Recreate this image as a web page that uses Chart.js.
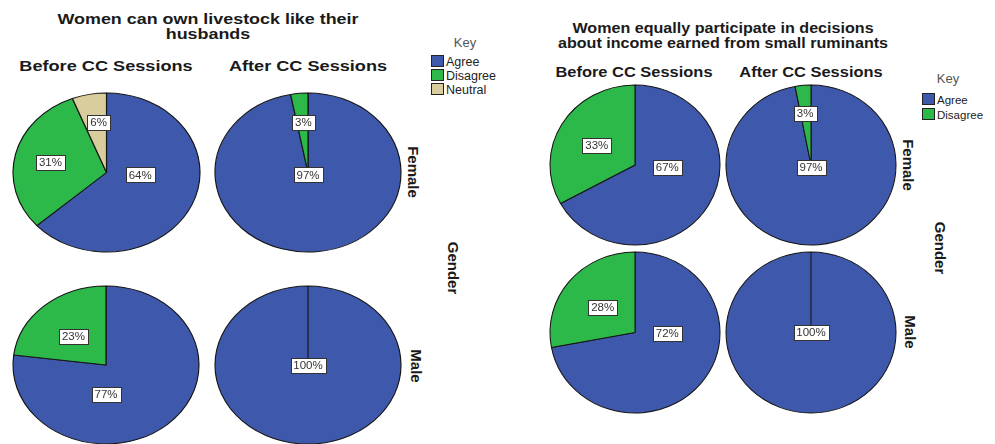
<!DOCTYPE html>
<html>
<head>
<meta charset="utf-8">
<script src="https://cdn.jsdelivr.net/npm/chart.js@4/dist/chart.umd.min.js"></script>
<style>
  html, body { margin: 0; padding: 0; background: #fff; }
  #wrap { position: relative; width: 995px; height: 444px; overflow: hidden; background: #fff;
          font-family: "Liberation Sans", Arial, sans-serif; color: #1a1a1a; }
  .t { position: absolute; white-space: nowrap; }
  .title { font-weight: bold; line-height: 15px; text-align: center; }
  .sub { font-weight: bold; }
  .side { font-weight: bold; font-size: 15px; }
  .key { font-size: 13px; color: #555; }
  .leg { position: absolute; color: #222; }
  .leg span.box { display: inline-block; width: 11px; height: 10px; border: 1px solid #222;
                  vertical-align: -1px; margin-right: 2px; }
  canvas { position: absolute; }
</style>
</head>
<body>
<div id="wrap"></div>
<script>
// Response categories and colours
const categories = ['Agree', 'Disagree', 'Neutral'];
const sliceColors = ['#3E58AC', '#2DB94A', '#D9CD9D'];

// Women can own livestock like their husbands (% of respondents)
const livestockFemaleBefore = [64, 31, 6];
const livestockFemaleAfter  = [97, 3, 0];
const livestockMaleBefore   = [77, 23, 0];
const livestockMaleAfter    = [100, 0, 0];

// Women equally participate in decisions about income from small ruminants (%)
const incomeFemaleBefore = [67, 33];
const incomeFemaleAfter  = [97, 3];
const incomeMaleBefore   = [72, 28];
const incomeMaleAfter    = [100, 0];

const panelTitles = ['Women can own livestock like their\nhusbands',
                     'Women equally participate in decisions\nabout income earned from small ruminants'];
const sessionLabels = ['Before CC Sessions', 'After CC Sessions'];
const genderLabels = ['Female', 'Male'];
const axisLabel = 'Gender';

const wrap = document.getElementById('wrap');

// Each panel is rendered with its own horizontal stretch
function addText(cls, text, x, y, size, sx, rotate) {
  const d = document.createElement('div');
  d.className = 't ' + cls;
  d.style.left = x + 'px';
  d.style.top = y + 'px';
  if (size) d.style.fontSize = size + 'px';
  d.style.transform = 'translate(-50%, -50%) scaleX(' + (sx || 1) + ')' + (rotate ? ' rotate(90deg)' : '');
  d.innerHTML = text.replace(/\n/g, '<br>');
  wrap.appendChild(d);
}

function addLegend(x, y, keyX, keyY, n, size, lh) {
  addText('key', 'Key', keyX, keyY, 13, 1);
  const box = document.createElement('div');
  box.className = 'leg';
  box.style.left = x + 'px';
  box.style.top = y + 'px';
  box.style.fontSize = size + 'px';
  box.style.lineHeight = lh + 'px';
  box.innerHTML = categories.slice(0, n).map((c, i) =>
    '<div><span class="box" style="background:' + sliceColors[i] + '"></span>' + c + '</div>').join('');
  wrap.appendChild(box);
}

// Horizontal stretch of the pie (panels are drawn slightly elliptical)
const ellipsePlugin = {
  id: 'ellipse',
  beforeDatasetsDraw(chart, args, opts) {
    const a = chart.getDatasetMeta(0).data[0];
    const ctx = chart.ctx;
    ctx.save();
    ctx.translate(a.x, a.y);
    ctx.scale(opts.sx, 1);
    ctx.translate(-a.x, -a.y);
  },
  afterDatasetsDraw(chart) { chart.ctx.restore(); }
};

// Boxed percentage labels placed relative to the pie centre
const boxLabelPlugin = {
  id: 'boxLabels',
  afterDraw(chart, args, opts) {
    const ctx = chart.ctx;
    const meta = chart.getDatasetMeta(0);
    const values = chart.data.datasets[0].data;
    const sx = chart.options.plugins.ellipse.sx;
    ctx.save();
    ctx.font = '11.5px "Liberation Sans", Arial, sans-serif';
    ctx.textAlign = 'center';
    ctx.textBaseline = 'middle';
    meta.data.forEach((a, i) => {
      if (!values[i]) return;
      const anchor = opts.anchors[i];
      const r = a.outerRadius;
      const x = a.x + anchor[0] * r * sx;
      const y = a.y + anchor[1] * r;
      const txt = values[i] + '%';
      const w = Math.round(ctx.measureText(txt).width) + 6;
      const h = 15;
      const bx = Math.round(x - w / 2) + 0.5, by = Math.round(y - h / 2) + 0.5;
      ctx.fillStyle = '#fff';
      ctx.fillRect(bx, by, w, h);
      ctx.strokeStyle = '#333';
      ctx.lineWidth = 1;
      ctx.strokeRect(bx, by, w, h);
      ctx.fillStyle = '#333';
      ctx.fillText(txt, x, y + 0.5);
    });
    ctx.restore();
  }
};

function addPie(values, cx, cy, rx, ry, anchors) {
  const W = Math.ceil(2 * rx + 6), H = Math.ceil(2 * ry + 6);
  const c = document.createElement('canvas');
  c.width = W; c.height = H;
  c.style.width = W + 'px'; c.style.height = H + 'px';
  c.style.left = (cx - W / 2) + 'px';
  c.style.top = (cy - H / 2) + 'px';
  wrap.appendChild(c);
  new Chart(c, {
    type: 'pie',
    data: {
      labels: categories.slice(0, values.length),
      datasets: [{
        data: values,
        backgroundColor: sliceColors.slice(0, values.length),
        borderColor: '#161616',
        borderWidth: 1
      }]
    },
    options: {
      responsive: false,
      animation: false,
      radius: ry,
      layout: { padding: 0 },
      events: [],
      plugins: {
        legend: { display: false },
        tooltip: { enabled: false },
        ellipse: { sx: rx / ry },
        boxLabels: { anchors: anchors }
      }
    },
    plugins: [ellipsePlugin, boxLabelPlugin]
  });
}

// ---- Panel 1: livestock ownership ----
const sx1 = 1.17;
addText('title', panelTitles[0], 208, 26, 15.3, sx1);
addText('sub', sessionLabels[0], 106, 66, 15.5, sx1);
addText('sub', sessionLabels[1], 308, 66, 15.5, sx1);
addText('side', genderLabels[0], 413, 172, 15, 1, true);
addText('side', axisLabel, 453, 268, 15, 1, true);
addText('side', genderLabels[1], 416, 366, 15, 1, true);
addLegend(431, 55, 465, 42, 3, 12.5, 14);

addPie(livestockFemaleBefore, 106, 172, 93.5, 79.5, [[0.36, 0.03], [-0.60, -0.13], [-0.085, -0.63]]);
addPie(livestockFemaleAfter, 308, 172, 93, 79.5, [[0, 0.03], [-0.05, -0.63]]);
addPie(livestockMaleBefore, 106, 365, 93, 79, [[0, 0.37], [-0.35, -0.36]]);
addPie(livestockMaleAfter, 308, 365, 93, 79, [[0, 0.01]]);

// ---- Panel 2: income decisions ----
const sx2 = 1.06;
addText('title', panelTitles[1], 723, 35, 15.2, sx2);
addText('sub', sessionLabels[0], 634, 72, 15.5, sx2);
addText('sub', sessionLabels[1], 811, 72, 15.5, sx2);
addText('side', genderLabels[0], 908, 165, 15, 1, true);
addText('side', axisLabel, 940, 248, 15, 1, true);
addText('side', genderLabels[1], 910, 332, 15, 1, true);
addLegend(922, 93, 948, 78, 2, 11.5, 13.5);

addPie(incomeFemaleBefore, 635, 165, 85, 80, [[0.38, 0.03], [-0.45, -0.24]]);
addPie(incomeFemaleAfter, 811, 165, 85, 80, [[0, 0.03], [-0.07, -0.65]]);
addPie(incomeMaleBefore, 635, 332, 85, 80.5, [[0.38, 0.01], [-0.38, -0.31]]);
addPie(incomeMaleAfter, 811, 332, 85, 80.5, [[0, 0]]);
</script>
</body>
</html>
